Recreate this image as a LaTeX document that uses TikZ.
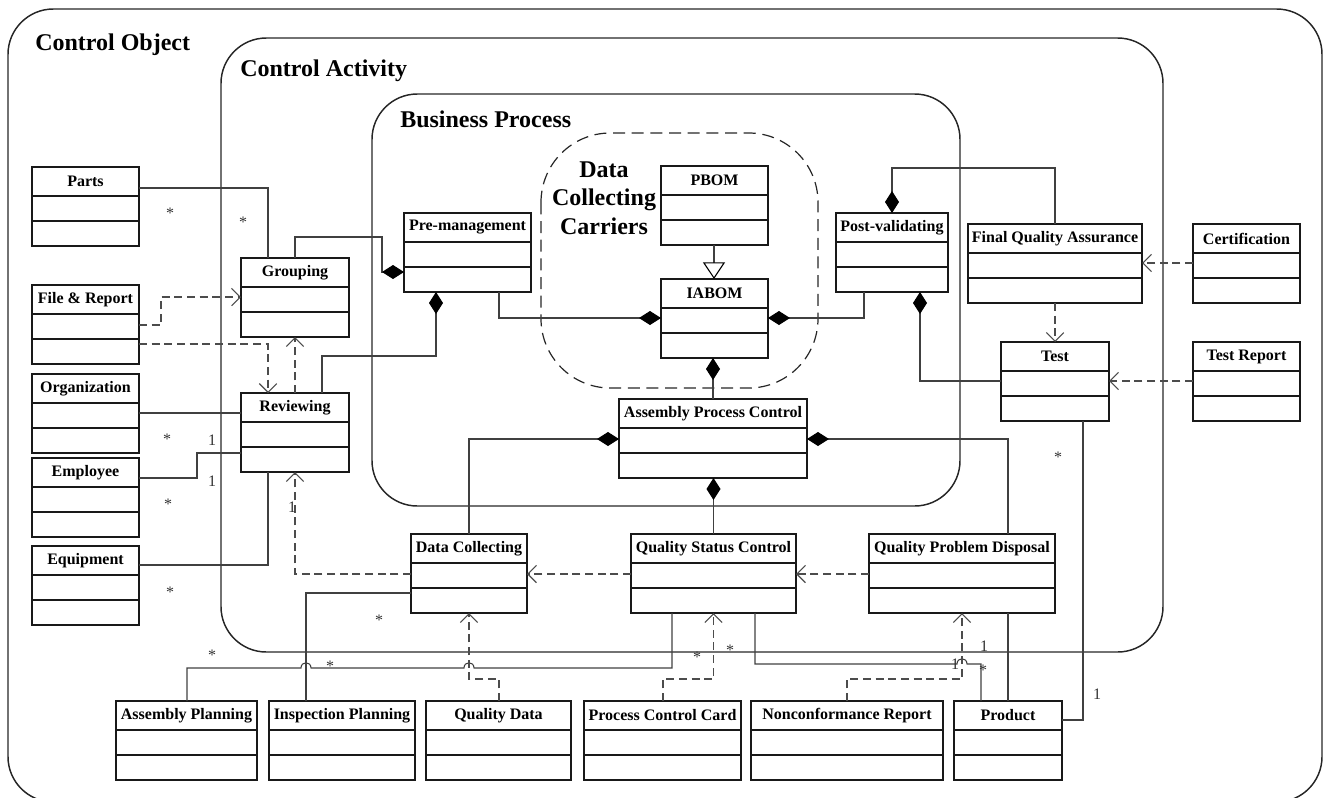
\documentclass[tikz,border=0pt]{standalone}
\usepackage{fontspec}
\setmainfont{Liberation Serif}
\usetikzlibrary{arrows.meta,fit}

\tikzset{
  framebox/.style={draw=black!85, line width=1.1pt, rounded corners=34pt},
  framelabel/.style={font=\bfseries\fontsize{18}{21}\selectfont, inner sep=0pt, anchor=base west},
  classbox/.style={draw=black!90, line width=1.1pt, inner sep=0pt, outer sep=0pt},
  compline/.style={draw=black!90, line width=1.3pt},
  classtitle/.style={font=\bfseries\fontsize{12}{14}\selectfont, inner sep=0pt},
  assoc/.style={draw=black!75, line width=0.8pt},
  comp/.style={assoc, -{Diamond[length=16.5pt,width=10.5pt,color=black,fill=black]}},
  gen/.style={assoc, -{Triangle[open,length=12.5pt,width=16.5pt,fill=white,color=black]}},
  dep/.style={draw=black!70, line width=0.8pt, dash pattern=on 6pt off 3.5pt,
    -{Straight Barb[length=6.5pt,width=13pt]}},
  mult/.style={font=\fontsize{12}{14}\selectfont, inner sep=0pt, text=black!80},
}

% UML class box: name, left x, top y, right x, title
\newcommand\umlclass[5]{%
  \node[classbox, fit={(#2,#3) (#4,#3+79)}] (#1) {};
  \draw[compline] (#2,#3+29) -- (#4,#3+29) (#2,#3+54) -- (#4,#3+54);
  \node[classtitle] (#1-t) at ({(#2+#4)/2},#3+14.5) {#5};
}

\begin{document}
\begin{tikzpicture}[x=0.75pt,y=-0.75pt]
\useasboundingbox (0,0) rectangle (1325,797);
\clip (0,0) rectangle (1325,797);

% nested package frames
\draw[framebox] (8,9) rectangle (1322,802);
\draw[framebox] (221,38) rectangle (1163,652);
\draw[framebox] (372,94) rectangle (960,506);
\draw[draw=black!85, line width=0.9pt, dash pattern=on 9pt off 5pt, rounded corners=52pt]
  (541,133) rectangle (818,388);

\node[framelabel] (lobj) at (35,50) {Control Object};
\node[framelabel] (lact) at (240,76) {Control Activity};
\node[framelabel] (lbp) at (400,127) {Business Process};
\node[font=\bfseries\fontsize{18}{21.5}\selectfont, align=center, inner sep=0pt] (ldcc) at (604,198)
  {Data\\Collecting\\Carriers};

% classes
\umlclass{parts}{32}{167}{139}{Parts}
\umlclass{filerep}{32}{285}{139}{File \& Report}
\umlclass{org}{32}{374}{139}{Organization}
\umlclass{emp}{32}{458}{139}{Employee}
\umlclass{equip}{32}{546}{139}{Equipment}
\umlclass{grp}{241}{258}{349}{Grouping}
\umlclass{rev}{241}{393}{349}{Reviewing}
\umlclass{pre}{404}{213}{531}{Pre-management}
\umlclass{pbom}{661}{166}{768}{PBOM}
\umlclass{iabom}{661}{279}{768}{IABOM}
\umlclass{apc}{619}{399}{807}{Assembly Process Control}
\umlclass{post}{836}{213}{948}{Post-validating}
\umlclass{fqa}{968}{224}{1142}{Final Quality Assurance}
\umlclass{cert}{1193}{224}{1300}{Certification}
\umlclass{test}{1001}{342}{1109}{Test}
\umlclass{trep}{1193}{342}{1300}{Test Report}
\umlclass{dc}{411}{534}{527}{Data Collecting}
\umlclass{qsc}{631}{534}{796}{Quality Status Control}
\umlclass{qpd}{869}{534}{1055}{Quality Problem Disposal}
\umlclass{apl}{116}{701}{257}{Assembly Planning}
\umlclass{ipl}{269}{701}{415}{Inspection Planning}
\umlclass{qd}{426}{701}{571}{Quality Data}
\umlclass{pcc}{584}{701}{741}{Process Control Card}
\umlclass{ncr}{751}{701}{943}{Nonconformance Report}
\umlclass{prod}{954}{701}{1062}{Product}

% associations
\draw[assoc] (parts.east |- 0,188) -| (grp.north -| 268,0);
\draw[assoc] (org.east |- 0,413) -- (rev.west |- 0,413);
\draw[assoc] (emp.east |- 0,478) -- (197,478) |- (rev.west |- 0,453);
\draw[assoc] (equip.east |- 0,565) -| (rev.south -| 268,0);
\draw[assoc] (ipl.north -| 306,0) |- (dc.west |- 0,593);
\draw[assoc] (apl.north -| 187,0) |- (301,668)
  .. controls (301,661) and (311,661) .. (311,668) -- (464,668)
  .. controls (464,661) and (474,661) .. (474,668) -| (qsc.south -| 672,0);
\draw[assoc] (qsc.south -| 755,0) |- (957,664)
  .. controls (957,657) and (967,657) .. (967,664) -| (prod.north -| 981,0);
\draw[assoc] (qpd.south -| 1008,0) -- (prod.north -| 1008,0);
\draw[assoc] (test.south -| 1083,0) |- (prod.east |- 0,720);

% compositions
\draw[comp] (grp.north -| 295,0) |- (382,237) -- (382,272) -- (pre.west |- 0,272);
\draw[comp] (rev.north -| 322,0) |- (436,356) -- (pre.south -| 436,0);
\draw[comp] (pre.south -| 499,0) |- (iabom.west |- 0,318);
\draw[comp] (post.south -| 864,0) |- (iabom.east |- 0,318);
\draw[comp] (apc.north) -- (apc.north |- iabom.south);
\draw[comp] (dc.north) |- (apc.west |- 0,439);
\draw[comp] (qpd.north -| 1008,0) |- (apc.east |- 0,439);
\draw[comp] (qsc.north) -- (qsc.north |- apc.south);
\draw[comp] (fqa.north -| 1055,0) |- (892,168) -- (post.north);
\draw[comp] (test.west |- 0,381) -| (post.south -| 920,0);

% generalization
\draw[gen] (pbom.south -| 714,0) -- (iabom.north -| 714,0);

% dependencies
\draw[dep] (filerep.east |- 0,325) -- (161,325) |- (grp.west |- 0,297);
\draw[dep] (filerep.east |- 0,344) -| (rev.north -| 268,0);
\draw[dep] (rev.north -| 295,0) -- (grp.south -| 295,0);
\draw[dep] (dc.west |- 0,574) -| (rev.south -| 295,0);
\draw[dep] (qsc.west |- 0,574) -- (dc.east |- 0,574);
\draw[dep] (qpd.west |- 0,574) -- (qsc.east |- 0,574);
\draw[dep] (qd.north -| 499,0) |- (469,679) -- (dc.south);
\draw[dep] (pcc.north -| 663,0) |- (713.5,679) -- (qsc.south);
\draw[dep] (ncr.north -| 847,0) |- (962,679) -- (qpd.south);
\draw[dep] (fqa.south -| 1055,0) -- (test.north);
\draw[dep] (cert.west |- 0,263) -- (fqa.east |- 0,263);
\draw[dep] (trep.west |- 0,381) -- (test.east |- 0,381);

% multiplicities
\node[mult] (m1) at (170,213) {*};
\node[mult] (m2) at (243,222) {*};
\node[mult] (m3) at (167,439) {*};
\node[mult] (m4) at (212,440) {1};
\node[mult] (m5) at (212,481) {1};
\node[mult] (m6) at (168,504) {*};
\node[mult] (m7) at (170,592) {*};
\node[mult] (m8) at (292,507) {1};
\node[mult] (m9) at (212,655) {*};
\node[mult] (m10) at (330,666) {*};
\node[mult] (m11) at (379,620) {*};
\node[mult] (m12) at (697,657) {*};
\node[mult] (m13) at (730,650) {*};
\node[mult] (m14) at (984,646) {1};
\node[mult] (m15) at (955,664) {1};
\node[mult] (m16) at (983,670) {*};
\node[mult] (m17) at (1058,457) {*};
\node[mult] (m18) at (1097,694) {1};
\end{tikzpicture}
\end{document}
